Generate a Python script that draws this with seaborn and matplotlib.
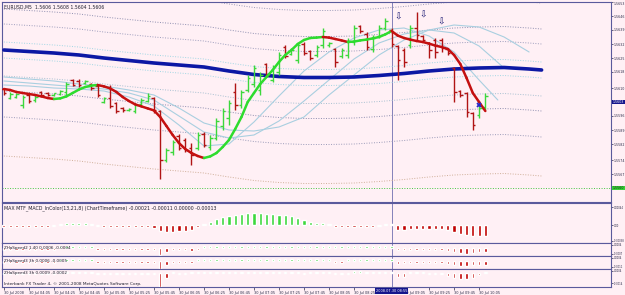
import matplotlib
matplotlib.use("Agg")
import matplotlib.pyplot as plt
import seaborn as sns

# EURUSD M5 bars, 30 Jul 2008 (bar 0 = 03:45)
opens = [1.56095, 1.56050, 1.56055, 1.56015, 1.56065, 1.56040, 1.56080, 1.56075, 1.56065, 1.56070,
         1.56080, 1.56140, 1.56135, 1.56125, 1.56120, 1.56110, 1.56030, 1.56050, 1.56025, 1.56000,
         1.55990, 1.55985, 1.56020, 1.56035, 1.56050, 1.55985, 1.55740, 1.55780, 1.55860, 1.55840,
         1.55800, 1.55800, 1.55870, 1.55805, 1.55850, 1.55910, 1.55950, 1.56080, 1.56015, 1.56090,
         1.56120, 1.56090, 1.56220, 1.56140, 1.56180, 1.56305, 1.56270, 1.56240, 1.56320, 1.56285,
         1.56265, 1.56315, 1.56315, 1.56295, 1.56260, 1.56265, 1.56330, 1.56410, 1.56370, 1.56295,
         1.56360, 1.56400, 1.56390, 1.56310, 1.56290, 1.56315, 1.56400, 1.56360, 1.56325, 1.56340,
         1.56340, 1.56295, 1.56200, 1.56085, 1.56075, 1.55975, 1.55965, 1.56005]
highs = [1.56100, 1.56080, 1.56075, 1.56065, 1.56075, 1.56065, 1.56085, 1.56080, 1.56075, 1.56090,
         1.56130, 1.56145, 1.56145, 1.56140, 1.56125, 1.56115, 1.56055, 1.56115, 1.56030, 1.56005,
         1.56000, 1.56025, 1.56050, 1.56075, 1.56055, 1.55990, 1.55800, 1.55840, 1.55870, 1.55850,
         1.55825, 1.55880, 1.55880, 1.55865, 1.55950, 1.56000, 1.56040, 1.56125, 1.56090, 1.56165,
         1.56215, 1.56180, 1.56225, 1.56215, 1.56280, 1.56315, 1.56300, 1.56325, 1.56330, 1.56290,
         1.56315, 1.56400, 1.56330, 1.56300, 1.56300, 1.56350, 1.56415, 1.56415, 1.56380, 1.56365,
         1.56415, 1.56450, 1.56400, 1.56315, 1.56300, 1.56415, 1.56480, 1.56365, 1.56330, 1.56350,
         1.56350, 1.56300, 1.56205, 1.56090, 1.56080, 1.55980, 1.56015, 1.56075]
lows = [1.56065, 1.56045, 1.56050, 1.56000, 1.56025, 1.56030, 1.56060, 1.56060, 1.56060, 1.56065,
        1.56065, 1.56110, 1.56105, 1.56120, 1.56090, 1.56055, 1.56025, 1.56000, 1.55975, 1.55980,
        1.55985, 1.55975, 1.56015, 1.56030, 1.55975, 1.55645, 1.55730, 1.55765, 1.55790, 1.55780,
        1.55715, 1.55790, 1.55805, 1.55790, 1.55840, 1.55890, 1.55915, 1.55990, 1.56000, 1.56080,
        1.56105, 1.56065, 1.56155, 1.56130, 1.56165, 1.56250, 1.56265, 1.56225, 1.56265, 1.56240,
        1.56255, 1.56300, 1.56305, 1.56205, 1.56250, 1.56250, 1.56315, 1.56375, 1.56290, 1.56280,
        1.56350, 1.56390, 1.56305, 1.56140, 1.56205, 1.56300, 1.56340, 1.56330, 1.56250, 1.56250,
        1.56280, 1.56265, 1.56030, 1.56055, 1.55955, 1.55890, 1.55950, 1.55990]
closes = [1.56075, 1.56070, 1.56070, 1.56055, 1.56035, 1.56055, 1.56065, 1.56065, 1.56075, 1.56085,
          1.56120, 1.56115, 1.56115, 1.56135, 1.56100, 1.56065, 1.56050, 1.56010, 1.55985, 1.55990,
          1.55995, 1.56015, 1.56040, 1.56060, 1.55990, 1.55740, 1.55790, 1.55830, 1.55800, 1.55790,
          1.55765, 1.55865, 1.55815, 1.55850, 1.55935, 1.55985, 1.56025, 1.56015, 1.56080, 1.56150,
          1.56200, 1.56165, 1.56165, 1.56205, 1.56265, 1.56260, 1.56290, 1.56315, 1.56275, 1.56250,
          1.56305, 1.56385, 1.56325, 1.56230, 1.56290, 1.56335, 1.56400, 1.56385, 1.56305, 1.56350,
          1.56400, 1.56435, 1.56320, 1.56240, 1.56230, 1.56400, 1.56365, 1.56340, 1.56290, 1.56280,
          1.56300, 1.56275, 1.56080, 1.56065, 1.55980, 1.55915, 1.56000, 1.56060]

# colour-switching smoothed line (green rising, red falling)
hma = [1.56095, 1.56090, 1.56080, 1.56075, 1.56070, 1.56065, 1.56058, 1.56050, 1.56045, 1.56048,
       1.56058, 1.56075, 1.56092, 1.56105, 1.56112, 1.56115, 1.56108, 1.56098, 1.56080, 1.56055,
       1.56035, 1.56018, 1.56008, 1.55998, 1.55988, 1.55955, 1.55910, 1.55865, 1.55825, 1.55795,
       1.55775, 1.55760, 1.55750, 1.55758, 1.55775, 1.55805, 1.55840, 1.55895, 1.55955, 1.56030,
       1.56075, 1.56120, 1.56155, 1.56190, 1.56230, 1.56265, 1.56290, 1.56320, 1.56340, 1.56350,
       1.56352, 1.56355, 1.56352, 1.56345, 1.56338, 1.56330, 1.56332, 1.56338, 1.56342, 1.56348,
       1.56355, 1.56368, 1.56385, 1.56362, 1.56350, 1.56342, 1.56335, 1.56330, 1.56322, 1.56312,
       1.56305, 1.56295, 1.56265, 1.56220, 1.56150, 1.56075, 1.56030, 1.55985]

# thick blue MA (shifted forward) and envelope offsets around it
ma_idx = [0, 4, 8, 12, 16, 20, 24, 28, 32, 36, 40, 44, 48, 52, 56, 60, 64, 68, 72, 76, 80, 84, 86]
ma_blue = [1.56290, 1.562825, 1.56275, 1.56265, 1.56250, 1.562375, 1.56225, 1.56215, 1.56205, 1.56185,
           1.561675, 1.561575, 1.561525, 1.561525, 1.56155, 1.561625, 1.561725, 1.56185, 1.56195, 1.56200,
           1.562025, 1.56195, 1.56190]
env_dev = [0.0004, 0.0013, 0.00205, 0.00335, 0.0053]
env_up_colors = ['#9fd6e3', '#9c9cbc', '#8e8eb0', '#9a9ab8', '#b0b0c8']
env_dn_colors = ['#9fd6e3', '#a6bfd0', '#8e8eb0', '#9a9ab8', '#cfae98']

# three light blue lagging averages
fast_idx = [0, 4, 8, 12, 16, 20, 24, 28, 32, 36, 40, 44, 48, 52, 56, 60, 64, 68, 72, 76, 79]
fast_ma = [1.56115, 1.56110, 1.56100, 1.56095, 1.56085, 1.56055, 1.56010, 1.55915, 1.55810, 1.55820,
           1.55930, 1.56060, 1.56185, 1.56280, 1.56350, 1.56390, 1.56400, 1.56360, 1.56280, 1.56140, 1.56040]
mid_idx = [0, 4, 8, 12, 16, 20, 24, 28, 32, 36, 40, 44, 48, 52, 56, 60, 64, 68, 72, 76, 80]
mid_ma = [1.56135, 1.56125, 1.56115, 1.56105, 1.56095, 1.56075, 1.56040, 1.55960, 1.55880, 1.55850,
          1.55865, 1.55935, 1.56035, 1.56140, 1.56245, 1.56325, 1.56370, 1.56390, 1.56375, 1.56310, 1.56200]
slow_idx = [0, 4, 8, 12, 16, 20, 24, 28, 32, 36, 40, 44, 48, 52, 56, 60, 64, 68, 72, 76, 80, 84]
slow_ma = [1.56155, 1.56145, 1.56135, 1.56120, 1.56110, 1.56090, 1.56065, 1.56000, 1.55925, 1.55890,
           1.55885, 1.55905, 1.55955, 1.56065, 1.56165, 1.56265, 1.56340, 1.56390, 1.56415, 1.56405,
           1.56355, 1.56280]

level_price = 1.5560
box_price = 1.5603
price_ticks = [1.5653, 1.5646, 1.5639, 1.5632, 1.5625, 1.5618, 1.5610, 1.5596, 1.5589, 1.5582, 1.5574, 1.5567]

arrow_idx = [63, 67, 70]
arrow_price = [1.56455, 1.56465, 1.56430]
mark_idx = [76]
mark_price = [1.56015]
cursor_idx = 62

macd = [-0.00005, -0.00005, -0.00004, -0.00005, -0.00005, -0.00004, -0.00005, -0.00004, -0.00003,
        0.00003, 0.00004, 0.00004, 0.00005, 0.00004, 0.00003,
        -0.00003, -0.00004, -0.00005, -0.00005, -0.00005, -0.00004, -0.00004, -0.00005, -0.00006, -0.00008,
        -0.00014, -0.00017, -0.00016, -0.00015, -0.00014, -0.00012, -0.00005,
        0.00003, 0.00008, 0.00014, 0.00019, 0.00023, 0.00025, 0.00027, 0.00029, 0.00030, 0.00029,
        0.00028, 0.00027, 0.00025, 0.00024, 0.00022, 0.00018,
        0.00013, 0.00007, 0.00005, 0.00004, 0.00003,
        -0.00004, -0.00005, -0.00005, -0.00005, -0.00004, -0.00004, -0.00004, -0.00003,
        0.00003, 0.00002,
        -0.00013, -0.00011, -0.00010, -0.00010, -0.00009, -0.00009, -0.00009, -0.00010, -0.00013,
        -0.00017, -0.00021, -0.00025, -0.00028, -0.00027, -0.00026]
speed1 = [-1.5, -1.5, -1.5, -1.5, -1.5, -1.5, -1.5, -1.5, -1.5,
          1.5, 1.5, 1.5, 1.5, 1.5, 1.5,
          -1.5, -1.5, -1.5, -1.5, -1.5, -1.5, -1.5, -1.5, -1.5, -1.5,
          -5.5, -3.5, -1.5, -1.5, -1.5, -2.0, -1.5,
          1.5, 1.5, 1.5, 1.5, 1.5, 1.5, 1.5, 1.5, 1.5, 1.5, 1.5, 1.5, 1.5, 1.5, 1.5, 1.5,
          1.5, 1.5, 1.5, 1.5, 1.5,
          1.5, 1.5, 1.5, 1.5, 1.5, 1.5, 1.5, 1.5,
          1.5, 1.5,
          -1.5, -1.5, -1.5, -1.5, -1.5, -1.5, -1.5, -1.5,
          -2.5, -3.5, -4.0, -4.5, -4.0, -3.5, -3.5]
speed2 = [-1.5, -1.5, -1.5, -1.5, -1.5, -1.5, -1.5, -1.5, -1.5,
          1.5, 1.5, 1.5, 1.5, 1.5, 1.5,
          -1.5, -1.5, -1.5, -1.5, -1.5, -1.5, -1.5, -1.5, -1.5, -1.5,
          -6.0, -3.0, -1.5, -1.5, -1.5, -1.5, 1.5,
          1.5, 1.5, 1.5, 1.5, 1.5, 1.5, 1.5, 1.5, 1.5, 1.5, 1.5, 1.5, 1.5, 1.5, 1.5, 1.5,
          1.5, 1.5, 1.5, 1.5, 1.5,
          -1.5, -1.5, 1.5, 1.5, 1.5, 1.5, 1.5, 1.5,
          1.5, 1.5,
          -2.5, -1.5, -1.5, -1.5, -1.5, -1.5, -1.5, -1.5,
          -2.5, -3.5, -4.0, -4.0, -3.5, -3.0, -3.0]
speed3 = [-1.5, -1.5, -1.5, -1.5, -1.5, -1.5, -1.5, -1.5, -1.5,
          1.5, 1.5, 1.5, 1.5, 1.5, 1.5,
          -1.5, -1.5, -1.5, -1.5, -1.5, -1.5, -1.5, -1.5, -1.5, -1.5,
          -15.0, -5.0, 1.5, -1.5, -1.5, 1.5, 1.5,
          1.5, 1.5, 1.5, 1.5, 1.5, 1.5, 1.5, 1.5, 1.5, 1.5, 1.5, 1.5, 1.5, 1.5, 1.5, 1.5,
          -1.5, 1.5, 1.5, 1.5, 1.5,
          -1.5, -1.5, -1.5, 2.5, 2.5, 1.5, 1.5, 1.5,
          1.5, 1.5,
          -4.0, -4.0, 1.5, 1.5, 1.5, -1.5, -1.5, -1.5,
          -3.0, -5.0, -6.0, -6.0, -5.0, -2.0, 1.5]

# the 08:45 label sits under the cursor time box, so it is not visible
time_idx = [0, 4, 8, 12, 16, 20, 24, 28, 32, 36, 40, 44, 48, 52, 56, 64, 68, 72, 76]
time_labels = ["30 Jul 2008", "30 Jul 04:05", "30 Jul 04:25", "30 Jul 04:45", "30 Jul 05:05",
               "30 Jul 05:25", "30 Jul 05:45", "30 Jul 06:05", "30 Jul 06:25", "30 Jul 06:45",
               "30 Jul 07:05", "30 Jul 07:25", "30 Jul 07:45", "30 Jul 08:05", "30 Jul 08:25",
               "30 Jul 09:05", "30 Jul 09:25", "30 Jul 09:45", "30 Jul 10:05"]

sns.set_theme(style="white")
plt.rcParams['font.family'] = ['DejaVu Sans']

BG = '#fff0f5'
EDGE = '#5a5a9c'
TXT = '#2a2a48'
UP = '#3cd83c'
DN = '#b01414'
RFS = 2.3   # right price scale font size
SFS = 1.8   # right scale font size in the indicator panels

W, H = 625, 295
fig = plt.figure(figsize=(W / 100, H / 100), dpi=100, facecolor=BG)


def px_box(top, bottom, left=2, right=611):
    return [left / W, 1 - bottom / H, (right - left) / W, (bottom - top) / H]


ax = fig.add_axes(px_box(2, 202))
ax_macd = fig.add_axes(px_box(203, 243))
ax_s1 = fig.add_axes(px_box(243, 256))
ax_s2 = fig.add_axes(px_box(256, 269))
ax_s3 = fig.add_axes(px_box(269, 287))
panels = [ax, ax_macd, ax_s1, ax_s2, ax_s3]

bars = list(range(len(closes)))

for a in panels:
    a.set_facecolor(BG)
    a.tick_params(axis='y', left=False, labelleft=False, right=True, labelright=True,
                  labelsize=RFS if a is ax else SFS, length=1.5, width=0.5, pad=0.6,
                  colors=TXT, direction='out')
    a.tick_params(axis='x', bottom=False, labelbottom=False)
    for s in a.spines.values():
        s.set_color(EDGE)
        s.set_linewidth(0.8)
    a.axvline(cursor_idx, color='#7070b0', lw=0.6, zorder=1)

# ---- main price panel ----
for dev, cu, cd in zip(env_dev, env_up_colors, env_dn_colors):
    ax.plot(ma_idx, [m + dev for m in ma_blue], color=cu, lw=0.7, ls=(0, (1, 1.6)), zorder=1)
    ax.plot(ma_idx, [m - dev for m in ma_blue], color=cd, lw=0.7, ls=(0, (1, 1.6)), zorder=1)
ax.axhline(level_price, color='#46c846', lw=0.7, ls=(0, (1, 1.6)), zorder=1)

for idx, vals in [(fast_idx, fast_ma), (mid_idx, mid_ma), (slow_idx, slow_ma)]:
    sns.lineplot(x=idx, y=vals, ax=ax, color='#a9cfe0', lw=0.8, zorder=2)

sns.lineplot(x=ma_idx, y=ma_blue, ax=ax, color='#0c18a4', lw=2.6, zorder=3)

for i, o, h, l, c in zip(bars, opens, highs, lows, closes):
    col = UP if c >= o else DN
    ax.vlines(i, l, h, color=col, lw=1.0, zorder=4)
    ax.hlines(o, i - 0.4, i, color=col, lw=1.0, zorder=4)
    ax.hlines(c, i, i + 0.4, color=col, lw=1.0, zorder=4)

for i in range(1, len(hma)):
    col = '#2edc2e' if hma[i] >= hma[i - 1] else '#c41010'
    ax.plot([i - 1, i], [hma[i - 1], hma[i]], color=col, lw=1.8,
            solid_capstyle='round', zorder=5)

for i, p in zip(arrow_idx, arrow_price):
    ax.text(i, p, '\u21e9', ha='center', va='center', fontsize=6.5, color='#12126e', zorder=6)
ax.plot(mark_idx, mark_price, ls='none', marker='x', ms=3.5, mew=1.3, color='#2828c8', zorder=6)

ax.set_xlim(-0.3, 97.1)
ax.set_ylim(1.5553, 1.5653)
ax.set_yticks(price_ticks)
ax.set_yticklabels([f"{v:.4f}" for v in price_ticks])
ax.get_yticklabels()[0].set_va('top')
ax.set_xlabel('')
ax.set_ylabel('')
ax.text(0.003, 0.985, "EURUSD,M5  1.5606 1.5608 1.5604 1.5606", transform=ax.transAxes,
        ha='left', va='top', fontsize=3.3, color='#202030')
ax.text(1.003, box_price, f"{box_price:.4f}", transform=ax.get_yaxis_transform(), ha='left',
        va='center', fontsize=RFS, color='white', clip_on=False, zorder=10,
        bbox=dict(boxstyle='square,pad=0.15', fc='#14148c', ec='none'))
ax.text(1.003, level_price, f"{level_price:.4f}", transform=ax.get_yaxis_transform(), ha='left',
        va='center', fontsize=RFS, color='#103010', clip_on=False, zorder=10,
        bbox=dict(boxstyle='square,pad=0.15', fc='#3ad23a', ec='none'))

# ---- MACD histogram ----
ax_macd.bar(bars, macd, width=0.5, color=[UP if v > 0 else '#c00000' for v in macd], zorder=3)
ax_macd.set_xlim(-0.3, 97.1)
ax_macd.set_ylim(-0.00044, 0.00054)
ax_macd.set_yticks([0.00044, 0.0, -0.00038])
ax_macd.set_yticklabels(['0.00044', '0.00', '-0.00038'])
ax_macd.text(0.003, 0.87, "MAX MTF_MACD_InColor(13,21,8) (ChartTimeframe) -0.00021 -0.00011 0.00000 -0.00013",
             transform=ax_macd.transAxes, ha='left', va='center', fontsize=3.4, color='#202030')

# ---- three speed panels ----
speed_sets = [
    (ax_s1, speed1, (-6.3, 3.9), [2.5, -4.5], ['0.0004', '-0.0007'], "ZHaSpeed2 1.40 0.0006 -0.0004", 0.62),
    (ax_s2, speed2, (-6.3, 3.9), [2.5, -4.5], ['0.0004', '-0.0011'], "ZHaSpeed3 3h 0.0006 -0.0005", 0.62),
    (ax_s3, speed3, (-15.0, 4.3), [2.5, -11.0], ['0.0004', '-0.0014'], "ZHaSpeed3 3h 0.0009 -0.0002", 0.78),
]
for a, vals, lim, tks, tlabs, title, ty in speed_sets:
    a.bar(bars, vals, width=0.38, color=['#34d034' if v > 0 else '#c00000' for v in vals], zorder=3)
    a.set_xlim(-0.3, 97.1)
    a.set_ylim(*lim)
    a.set_yticks(tks)
    a.set_yticklabels(tlabs)
    a.text(0.003, ty, title, transform=a.transAxes, ha='left', va='center',
           fontsize=3.0, color='#202030', zorder=6)

ax_s3.text(0.003, 0.17, "Interbank FX Trader 4, \u00a9 2001-2008 MetaQuotes Software Corp.",
           transform=ax_s3.transAxes, ha='left', va='center', fontsize=3.1, color='#202030')

ax_s3.tick_params(axis='x', bottom=True, labelbottom=True, length=2, width=0.5, pad=1.2,
                  labelsize=2.5, colors=TXT, direction='out')
ax_s3.set_xticks(time_idx)
ax_s3.set_xticklabels(time_labels)
for lab in ax_s3.get_xticklabels():
    lab.set_ha('left')
ax_s3.text(cursor_idx, -0.22, "2008.07.30 08:55", transform=ax_s3.get_xaxis_transform(),
           ha='center', va='center', fontsize=2.5, color='white', clip_on=False, zorder=10,
           bbox=dict(boxstyle='square,pad=0.2', fc='#14148c', ec='none'))

fig.savefig('out.png', dpi=100, facecolor=BG)
